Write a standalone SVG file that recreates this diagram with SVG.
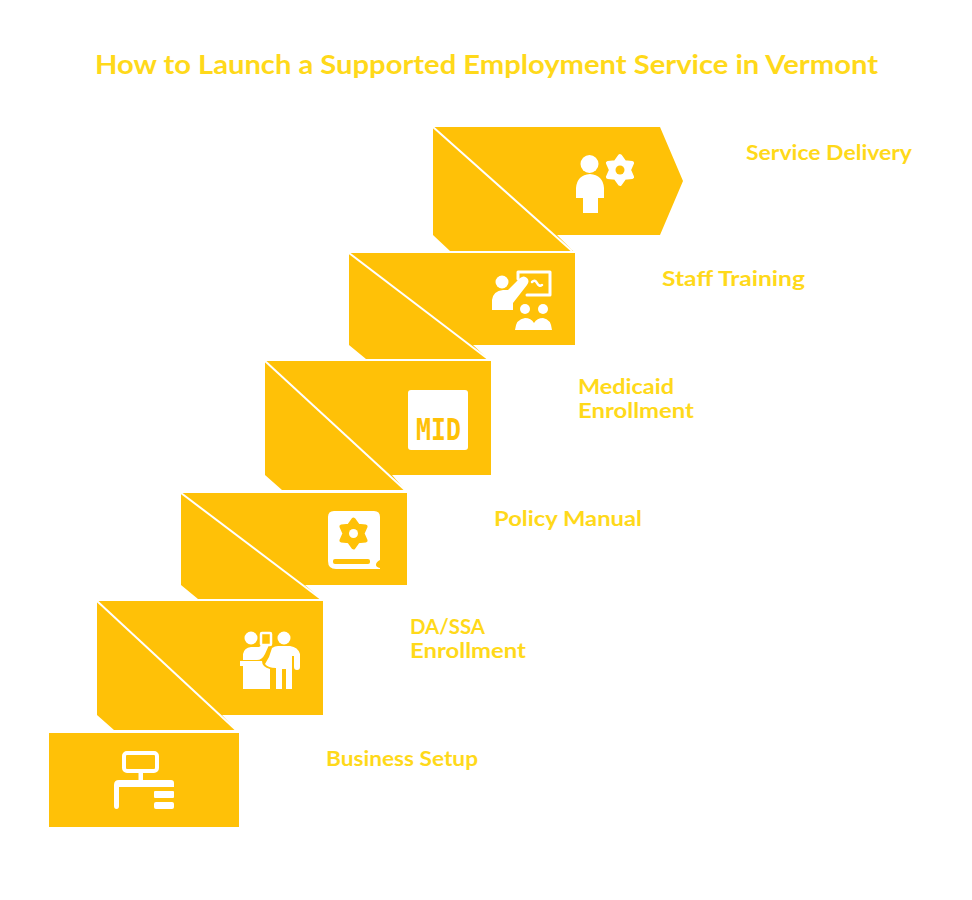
<svg xmlns="http://www.w3.org/2000/svg" width="972" height="900" viewBox="0 0 972 900">
<style>
.s{fill:#FFC107}
.d{stroke:#FFF;stroke-width:2;fill:none}
.w{fill:#FFF}
.y{fill:#FFC107}
.gw{fill:#FFF;stroke:#FFF;stroke-width:4;stroke-linejoin:round}
.gy{fill:#FFC107;stroke:#FFC107;stroke-width:4;stroke-linejoin:round}
.ol{fill:none;stroke:#FFF;stroke-width:3;stroke-linejoin:round;stroke-linecap:round}
.t{font-family:"Lato","Noto Sans",sans-serif;font-weight:700;font-size:20px;fill:#FFD91A}
</style>
<defs>
<path id="gear" d="M0-14L4.500-7.800L12.100-7L9 0L12.100 7L4.500 7.800L0 14L-4.500 7.800L-12.100 7L-9 0L-12.100-7L-4.500-7.800Z"/>
</defs>
<rect width="972" height="900" fill="#FFF"/>
<text class="t" x="95" y="74" style="font-size:26px" textLength="783" lengthAdjust="spacingAndGlyphs">How to Launch a Supported Employment Service in Vermont</text>

<g id="business-setup">
<rect class="s" x="49" y="733" width="190" height="94"/>
<rect x="124" y="753" width="33" height="18" rx="3" fill="none" stroke="#FFF" stroke-width="4"/>
<rect class="w" x="138.500" y="772" width="4.500" height="9"/>
<path class="w" d="M114 809V785Q114 780 119 780H171Q174 780 174 783V787H119V806Q119 809 116.500 809Q114 809 114 806Z"/>
<rect class="w" x="154" y="791" width="20" height="7" rx="1"/>
<rect class="w" x="154" y="802" width="20" height="7" rx="2"/>
<text class="t" x="326" y="766" textLength="152" lengthAdjust="spacingAndGlyphs">Business Setup</text>
</g>

<g id="da-ssa-enrollment">
<path class="s" d="M97 601H323V715H222L236 730H114L97 715Z"/>
<path class="d" d="M97 601L236 730"/>
<circle class="w" cx="251" cy="638" r="6.500"/>
<rect x="261" y="633" width="10" height="12" rx="1" fill="none" stroke="#FFF" stroke-width="2.500"/>
<path class="w" d="M243 660V654Q244 648 251 647L259 647L262 645H269L265 654Q262 660 257 660Z"/>
<path class="w" d="M240 661H262Q262 667 270 669V689H243V666H240Z"/>
<circle class="w" cx="284" cy="638" r="6.500"/>
<path class="w" d="M272 648Q275 646 278 646H290Q298 647 300 654V667Q300 670 297 670Q294 670 294 667V656H292V689H286V669H282V689H276V668Q268 668 265 664L269 657Z"/>
<text class="t" x="410" y="634" textLength="75" lengthAdjust="spacingAndGlyphs">DA/SSA</text>
<text class="t" x="410" y="658" textLength="116" lengthAdjust="spacingAndGlyphs">Enrollment</text>
</g>

<g id="policy-manual">
<path class="s" d="M181 493H407V585H305L321 599H198L181 585Z"/>
<path class="d" d="M181 493L321 599"/>
<path class="w" d="M334 511H374Q380 511 380 517V560Q376 562 376 565Q376 567 380 568V569H336Q328 569 328 561V517Q328 511 334 511Z"/>
<rect class="y" x="333" y="559" width="37" height="5" rx="2"/>
<use href="#gear" class="gy" transform="translate(353.500 533.500)"/>
<circle class="w" cx="353.500" cy="533.500" r="4.500"/>
<text class="t" x="494" y="526" textLength="148" lengthAdjust="spacingAndGlyphs">Policy Manual</text>
</g>

<g id="medicaid-enrollment">
<path class="s" d="M265 361H491V475H392L405 490H282L265 475Z"/>
<path class="d" d="M265 361L405 490"/>
<rect class="w" x="408" y="390" width="60" height="60" rx="3"/>
<text x="416" y="440" font-family="DejaVu Sans Mono,monospace" font-weight="700" font-size="30" fill="#FFC107" textLength="45" lengthAdjust="spacingAndGlyphs">MID</text>
<text class="t" x="578" y="394" textLength="96" lengthAdjust="spacingAndGlyphs">Medicaid</text>
<text class="t" x="578" y="418" textLength="116" lengthAdjust="spacingAndGlyphs">Enrollment</text>
</g>

<g id="staff-training">
<path class="s" d="M349 253H575V345H473L488 359H366L349 345Z"/>
<path class="d" d="M349 253L488 359"/>
<circle class="w" cx="502" cy="282" r="6.500"/>
<path class="w" d="M492 310V300Q493 291 503 290H508L520 278Q524 275 527 278Q530 281 527 285L513 303V310Z"/>
<path class="ol" d="M518 279V272H550V295H527"/>
<path d="M532 282Q535 279 537 283Q539 287 542 285" fill="none" stroke="#FFF" stroke-width="2.500" stroke-linecap="round"/>
<circle class="w" cx="525" cy="309" r="5"/>
<circle class="w" cx="543" cy="309" r="5"/>
<path class="w" d="M515 330Q516 319 525 318Q531 318 534 323Q537 318 543 318Q551 319 552 330Z"/>
<text class="t" x="662" y="286" textLength="143" lengthAdjust="spacingAndGlyphs">Staff Training</text>
</g>

<g id="service-delivery">
<path class="s" d="M433 127H660L683 181L660 235H557L573 251H450L433 235Z"/>
<path class="d" d="M433 127L572 251"/>
<circle class="w" cx="589.500" cy="164" r="9"/>
<path class="w" d="M576 198V188Q577 175 590 174Q603 175 604 188V198H598V213H583V198Z"/>
<use href="#gear" class="gw" transform="translate(620 170)"/>
<circle class="y" cx="620" cy="170" r="4.500"/>
<text class="t" x="746" y="160" textLength="166" lengthAdjust="spacingAndGlyphs">Service Delivery</text>
</g>
</svg>
